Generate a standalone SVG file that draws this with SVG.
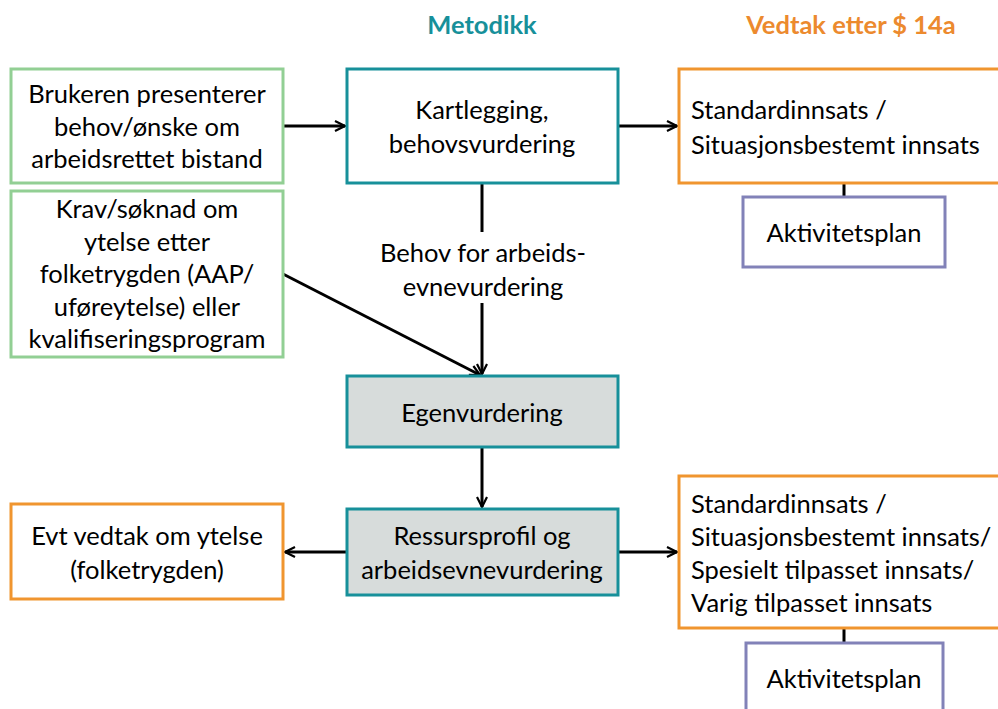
<svg xmlns="http://www.w3.org/2000/svg" width="998" height="709" viewBox="0 0 998 709">
<defs>
<style>
text{font-family:Lato,"Open Sans","Liberation Sans",sans-serif;font-size:25.5px;fill:#000}
.c{text-anchor:middle}
.t{font-weight:bold;font-size:25.5px}
.box{stroke-width:3;fill:#fff}
.g{stroke:#92cf94}
.tl{stroke:#17909a}
.o{stroke:#f0952f}
.p{stroke:#8282b8}
.gray{fill:#d7dcdb}
.ln{stroke:#000;stroke-width:3;fill:none}
</style>
<marker id="ah" viewBox="0 0 12 12" refX="11" refY="6" markerWidth="12" markerHeight="12" markerUnits="userSpaceOnUse" orient="auto">
<path d="M1,1 L11,6 L1,11" fill="none" stroke="#000" stroke-width="2.2"/>
</marker>
</defs>
<rect width="998" height="709" fill="#fff"/>
<text class="c t" x="482" y="34" style="fill:#17909a">Metodikk</text>
<text class="c t" x="851" y="34" style="fill:#ec8a2e">Vedtak etter $ 14a</text>
<g id="connectors">
<line class="ln" x1="283" y1="126" x2="345" y2="126" marker-end="url(#ah)"/>
<line class="ln" x1="618" y1="126" x2="677" y2="126" marker-end="url(#ah)"/>
<line class="ln" x1="482" y1="183" x2="482" y2="232"/>
<line class="ln" x1="482" y1="303" x2="482" y2="374" marker-end="url(#ah)"/>
<line class="ln" x1="283" y1="274" x2="480" y2="375" marker-end="url(#ah)"/>
<line class="ln" x1="482" y1="447" x2="482" y2="507" marker-end="url(#ah)"/>
<line class="ln" x1="347" y1="552" x2="285" y2="552" marker-end="url(#ah)"/>
<line class="ln" x1="618" y1="552" x2="677" y2="552" marker-end="url(#ah)"/>
<line class="ln" x1="844" y1="183" x2="844" y2="197"/>
<line class="ln" x1="844" y1="628" x2="844" y2="643"/>
<text class="c" x="483" y="262">Behov for arbeids-</text>
<text class="c" x="483" y="296">evnevurdering</text>
</g>
<g id="n-bruker">
<rect class="box g" x="11" y="69" width="272" height="114"/>
<text class="c" x="147" y="103">Brukeren presenterer</text>
<text class="c" x="147" y="136">behov/ønske om</text>
<text class="c" x="147" y="168">arbeidsrettet bistand</text>
</g>
<g id="n-krav">
<rect class="box g" x="11" y="191" width="272" height="166"/>
<text class="c" x="147" y="218">Krav/søknad om</text>
<text class="c" x="147" y="251">ytelse etter</text>
<text class="c" x="147" y="283">folketrygden (AAP/</text>
<text class="c" x="147" y="316">uføreytelse) eller</text>
<text class="c" x="147" y="348">kvalifiseringsprogram</text>
</g>
<g id="n-kartlegging">
<rect class="box tl" x="347" y="69" width="271" height="114"/>
<text class="c" x="482" y="119">Kartlegging,</text>
<text class="c" x="482" y="153">behovsvurdering</text>
</g>
<g id="n-vedtak1">
<rect class="box o" x="679" y="69" width="330" height="114"/>
<text x="691" y="119">Standardinnsats /</text>
<text x="691" y="154">Situasjonsbestemt innsats</text>
</g>
<g id="n-aktivitet1">
<rect class="box p" x="743" y="197" width="202" height="70"/>
<text class="c" x="844" y="242">Aktivitetsplan</text>
</g>
<g id="n-egen">
<rect class="box tl gray" x="347" y="376" width="271" height="71"/>
<text class="c" x="482" y="422">Egenvurdering</text>
</g>
<g id="n-ressurs">
<rect class="box tl gray" x="347" y="509" width="271" height="86"/>
<text class="c" x="482" y="545">Ressursprofil og</text>
<text class="c" x="482" y="579">arbeidsevnevurdering</text>
</g>
<g id="n-evt">
<rect class="box o" x="11" y="504" width="272" height="95"/>
<text class="c" x="147" y="545">Evt vedtak om ytelse</text>
<text class="c" x="147" y="579">(folketrygden)</text>
</g>
<g id="n-vedtak2">
<rect class="box o" x="679" y="476" width="330" height="152"/>
<text x="691" y="513">Standardinnsats /</text>
<text x="691" y="546">Situasjonsbestemt innsats/</text>
<text x="691" y="579">Spesielt tilpasset innsats/</text>
<text x="691" y="612">Varig tilpasset innsats</text>
</g>
<g id="n-aktivitet2">
<rect class="box p" x="746" y="643" width="197" height="80"/>
<text class="c" x="844" y="688">Aktivitetsplan</text>
</g>
</svg>
